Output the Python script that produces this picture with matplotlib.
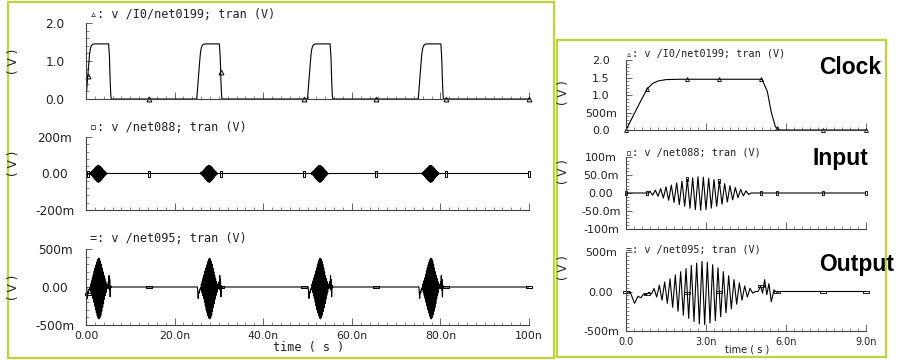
import numpy as np
import matplotlib
matplotlib.use("Agg")
import matplotlib.pyplot as plt
from matplotlib.patches import Rectangle
from matplotlib.ticker import MultipleLocator

# --- data (time in ns, volts) ---

# one clock period as seen in the zoomed view
clock_t = [0.0, 0.3, 0.6, 0.8, 1.0, 1.2, 1.5, 2.0, 5.1, 5.3, 5.45, 5.6, 5.7, 9.0]
clock_v = [0.0, 0.45, 0.9, 1.18, 1.33, 1.40, 1.44, 1.45, 1.45, 1.1, 0.5, 0.1, 0.0, 0.0]

# input burst (half-cycle extremes, mV)
input_t = [0.0, 0.85, 0.90, 1.00, 1.10, 1.20, 1.30, 1.40, 1.50, 1.60, 1.70, 1.80,
           1.90, 2.00, 2.10, 2.20, 2.30, 2.40, 2.50, 2.60, 2.70, 2.80, 2.90, 3.00,
           3.10, 3.20, 3.30, 3.40, 3.50, 3.60, 3.70, 3.80, 3.90, 4.00, 4.10, 4.20,
           4.30, 4.40, 4.50, 4.60, 4.70, 9.0]
input_mv = [0, 0, 5, -6, 8, -9, 12, -14, 17, -20, 22, -26,
            28, -32, 33, -37, 38, -42, 42, -46, 45, -48, 44, -46,
            41, -42, 37, -37, 32, -31, 26, -25, 20, -19, 15, -13,
            10, -8, 6, -4, 0, 0]

# output burst (half-cycle extremes, V)
output_t = [0.0, 0.15, 0.32, 0.45, 0.56, 0.66, 0.76, 0.86, 0.96,
            1.05, 1.15, 1.25, 1.35, 1.45, 1.55, 1.65, 1.75, 1.85, 1.95,
            2.05, 2.15, 2.25, 2.35, 2.45, 2.55, 2.65, 2.75, 2.85, 2.95,
            3.05, 3.15, 3.25, 3.35, 3.45, 3.55, 3.65, 3.75, 3.85, 3.95,
            4.05, 4.15, 4.25, 4.35, 4.45, 4.55, 4.65, 4.75,
            4.85, 4.95, 5.05, 5.12, 5.20, 5.28, 5.36, 5.45, 5.55, 5.65, 5.80, 9.0]
output_v = [0.0, 0.0, -0.15, -0.06, -0.08, -0.03, -0.04, -0.01, -0.03,
            0.04, -0.07, 0.08, -0.11, 0.12, -0.15, 0.16, -0.20, 0.21, -0.25,
            0.25, -0.30, 0.29, -0.34, 0.33, -0.38, 0.36, -0.41, 0.38, -0.42,
            0.37, -0.40, 0.34, -0.37, 0.30, -0.32, 0.25, -0.27, 0.20, -0.22,
            0.15, -0.16, 0.11, -0.11, 0.07, -0.07, 0.04, -0.02,
            0.0, 0.0, 0.07, -0.02, 0.15, -0.04, 0.10, -0.13, 0.02, -0.01, 0.0, 0.0]

# the whole pattern repeats every clock period in the long run
period_starts = [0.0, 25.0, 50.0, 75.0]
t_stop = 100.0

# marker positions placed by the viewer
marks_long = [0.4, 14.2, 30.4, 49.2, 65.5, 81.3, 100.0]
marks_zoom = [0.0, 0.8, 2.3, 3.5, 5.05, 5.65, 7.4, 9.0]

long_xticks = [0, 20, 40, 60, 80, 100]
long_xlabels = ["0.00", "20.0n", "40.0n", "60.0n", "80.0n", "100n"]
zoom_xticks = [0, 3, 6, 9]
zoom_xlabels = ["0.0", "3.0n", "6.0n", "9.0n"]

titles = ["\u25b5: v /I0/net0199; tran (V)",
          "\u25ab: v /net088; tran (V)",
          "=: v /net095; tran (V)"]

W, H = 903, 360
fig = plt.figure(figsize=(W / 100, H / 100), dpi=100)
fig.patch.set_facecolor("white")

FONT = "DejaVu Sans"
MONO = ["DejaVu Sans Mono", "DejaVu Sans"]
BORDER = "#bcd63a"


def axes_px(x0, x1, y0, y1):
    return fig.add_axes([x0 / W, 1 - y1 / H, (x1 - x0) / W, (y1 - y0) / H])


def text_px(x, y, s, **kw):
    fig.text(x / W, 1 - y / H, s, **kw)


def repeat(t, v):
    tt, vv = [], []
    for s in period_starts:
        tt += [s + x for x in t]
        vv += list(v)
    tt.append(t_stop)
    vv.append(0.0)
    return np.array(tt), np.array(vv)


rect_marker = [(-1, -0.35), (1, -0.35), (1, 0.35), (-1, 0.35), (-1, -0.35)]
vbar_marker = [(-0.45, -1), (0.45, -1), (0.45, 1), (-0.45, 1), (-0.45, -1)]
markers = [("^", 3.5), (vbar_marker, 4), (rect_marker, 5)]


def setup(ax, x0_px, ylim, yticks, ylabels, yminor, xlim, xticks, xminor,
          xlabels, label_cx, yfs, xfs, show_x):
    ax.set_ylim(*ylim)
    for s in ["top", "right"]:
        ax.spines[s].set_visible(False)
    for s in ["left", "bottom"]:
        ax.spines[s].set_color("#444444")
        ax.spines[s].set_linewidth(0.8)
    ax.set_yticks(yticks, ylabels)
    ax.yaxis.set_minor_locator(MultipleLocator(yminor))
    if show_x:
        ax.set_xticks(xticks, xlabels)
    else:
        ax.set_xticks(xticks)
        ax.tick_params(axis="x", labelbottom=False)
    ax.xaxis.set_minor_locator(MultipleLocator(xminor))
    ax.set_xlim(*xlim)
    pad = (x0_px - label_cx) * 0.72
    ax.tick_params(axis="y", which="major", direction="in", length=4,
                   width=0.7, color="#666666", pad=pad, labelsize=yfs,
                   labelcolor="#222222")
    ax.tick_params(axis="y", which="minor", direction="in", length=2,
                   width=0.6, color="#777777")
    ax.tick_params(axis="x", which="major", direction="in", length=5,
                   width=0.7, color="#666666", labelsize=xfs, pad=4,
                   labelcolor="#222222")
    ax.tick_params(axis="x", which="minor", direction="in", length=2,
                   width=0.6, color="#777777")
    for lab in ax.get_yticklabels():
        lab.set_horizontalalignment("center")
        lab.set_fontfamily(FONT)
    for lab in ax.get_xticklabels():
        lab.set_fontfamily(FONT)


# ---------------- long run (left) ----------------
LX0, LX1 = 86, 529
left_rows = [(23, 99), (137, 210), (249, 325)]
long_series = [repeat(clock_t, clock_v),
               repeat(input_t, np.array(input_mv) / 1000.0),
               repeat(output_t, output_v)]
left_y = [((0, 2.0), [0, 1.0, 2.0], ["0.0", "1.0", "2.0"], 0.2),
          ((-0.2, 0.2), [-0.2, 0, 0.2], ["-200m", "0.00", "200m"], 0.04),
          ((-0.5, 0.5), [-0.5, 0, 0.5], ["-500m", "0.00", "500m"], 0.1)]
left_title_y = [15, 127, 238]
left_vlabel_y = [61, 163, 287]

for i, (y0, y1) in enumerate(left_rows):
    ax = axes_px(LX0, LX1, y0, y1)
    t, v = long_series[i]
    ax.plot(t, v, color="black", lw=0.8)
    mv = np.interp(marks_long, t, v)
    m, ms = markers[i]
    ax.plot(marks_long, mv, ls="none", marker=m, ms=ms, mfc="none",
            mec="black", mew=0.7, clip_on=False)
    ylim, yt, yl, ymin = left_y[i]
    setup(ax, LX0, ylim, yt, yl, ymin, (0, 100), long_xticks, 2,
          long_xlabels, 55, 8.7, 7.8, i == 2)
    text_px(90, left_title_y[i], titles[i], fontsize=8.5, family=MONO,
            va="center", ha="left", color="#222222")
    text_px(14, left_vlabel_y[i], "( V )", rotation=90, fontsize=8.7,
            family=FONT, va="center", ha="center", color="#222222")

text_px((LX0 + LX1) / 2 + 1, 348, "time ( s )", fontsize=8.5, family=MONO,
        va="center", ha="center", color="#222222")

# ---------------- zoomed first period (right) ----------------
RX0, RX1 = 626, 866
right_rows = [(60, 130), (157, 229), (252, 331)]
zoom_series = [(np.array(clock_t), np.array(clock_v)),
               (np.array(input_t), np.array(input_mv) / 1000.0),
               (np.array(output_t), np.array(output_v))]
right_y = [((0, 2.0), [0, 0.5, 1.0, 1.5, 2.0], ["0.0", "500m", "1.0", "1.5", "2.0"], 0.1),
           ((-0.1, 0.1), [-0.1, -0.05, 0, 0.05, 0.1],
            ["-100m", "-50.0m", "0.00", "50.0m", "100m"], 0.01),
           ((-0.5, 0.5), [-0.5, 0, 0.5], ["-500m", "0.00", "500m"], 0.05)]
right_title_y = [54, 152, 249]
right_vlabel_y = [93, 172, 268]

for i, (y0, y1) in enumerate(right_rows):
    ax = axes_px(RX0, RX1, y0, y1)
    t, v = zoom_series[i]
    ax.plot(t, v, color="black", lw=0.8)
    mv = np.interp(marks_zoom, t, v)
    m, ms = markers[i]
    ax.plot(marks_zoom, mv, ls="none", marker=m, ms=ms * 0.8, mfc="none",
            mec="black", mew=0.6, clip_on=False)
    ylim, yt, yl, ymin = right_y[i]
    setup(ax, RX0, ylim, yt, yl, ymin, (0, 9), zoom_xticks, 0.3,
          zoom_xlabels, 601, 8, 7, i == 2)
    text_px(626, right_title_y[i], titles[i], fontsize=7.3, family=MONO,
            va="center", ha="left", color="#222222")
    text_px(564, right_vlabel_y[i], "( V )", rotation=90, fontsize=8.5,
            family=FONT, va="center", ha="center", color="#222222")

text_px((RX0 + RX1) / 2 + 1, 349, "time ( s )", fontsize=7, family=FONT,
        va="center", ha="center", color="#222222")

# signal names
for name, x, y in [("Clock", 819, 67), ("Input", 813, 158), ("Output", 819, 264)]:
    text_px(x, y, name, fontsize=16.5, fontweight="bold",
            family="Liberation Sans", va="center", ha="left")

# panel frames
fig.add_artist(Rectangle((8 / W, 1 - 358 / H), (554 - 8) / W, (358 - 2) / H,
                         transform=fig.transFigure, fill=False,
                         edgecolor=BORDER, lw=1.6))
fig.add_artist(Rectangle((557 / W, 1 - 357 / H), (886 - 557) / W, (357 - 40) / H,
                         transform=fig.transFigure, fill=False,
                         edgecolor=BORDER, lw=1.6))

fig.savefig("out.png", dpi=100, facecolor="white")
